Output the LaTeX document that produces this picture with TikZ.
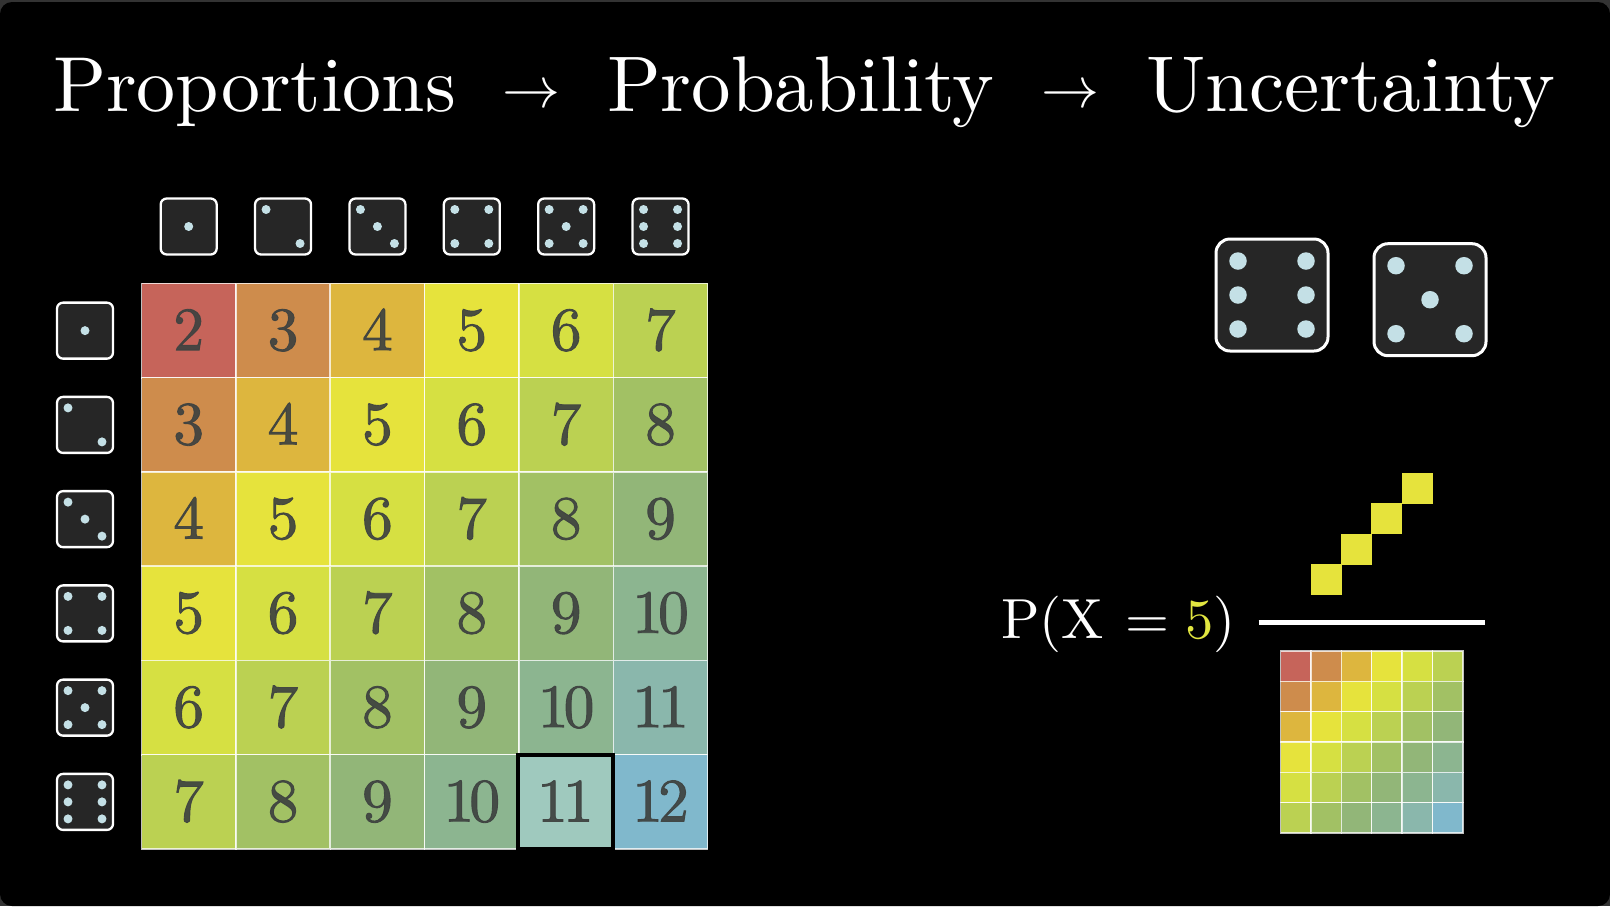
\documentclass[tikz,border=0pt]{standalone}
\usepackage{fix-cm}
\usepackage{xcolor}
\font\numfont="[lmroman10-regular.otf]:embolden=1.4" at 10pt
\newcommand{\numtxt}[1]{{\numfont\ifnum#1>9 1\kern-.8pt\number\numexpr#1-10\relax\else#1\fi}}
\definecolor{sum2}{HTML}{C6645A}
\definecolor{sum3}{HTML}{CE8C4C}
\definecolor{sum4}{HTML}{DDB63E}
\definecolor{sum5}{HTML}{E6E33C}
\definecolor{sum6}{HTML}{D6E042}
\definecolor{sum7}{HTML}{BBD152}
\definecolor{sum8}{HTML}{A2C164}
\definecolor{sum9}{HTML}{92B678}
\definecolor{sum10}{HTML}{8CB590}
\definecolor{sum11}{HTML}{8AB7AC}
\definecolor{sum12}{HTML}{80B8CC}
\definecolor{hilite}{HTML}{9FC9BE}
\definecolor{dieface}{HTML}{262626}
\definecolor{pipcol}{HTML}{C4E0E6}
\definecolor{frame}{HTML}{333333}
\definecolor{five}{HTML}{E2E640}
\definecolor{numcol}{HTML}{3E4240}
\tikzset{
  x=1pt,y=-1pt,
  bigtext/.style={inner sep=0pt,outer sep=0pt,anchor=base,text=white,scale=#1,transform shape},
  bigtextw/.style={inner sep=0pt,outer sep=0pt,anchor=base west,text=white,scale=#1,transform shape},
  cell/.style={inner sep=0pt,outer sep=0pt,minimum size=94.35pt,draw=white,draw opacity=.75,line width=1.5pt},
  minicell/.style={inner sep=0pt,outer sep=0pt,minimum size=30.4pt,draw=white,draw opacity=.75,line width=1.3pt},
  num/.style={inner sep=0pt,outer sep=0pt,anchor=base,text=numcol,text opacity=.92,scale=6.15,transform shape},
  diebox/.style={inner sep=0pt,outer sep=0pt,fill=dieface,draw=white,rounded corners=#1},
  pip/.style={circle,inner sep=0pt,outer sep=0pt,fill=pipcol},
  yellowsq/.style={inner sep=0pt,outer sep=0pt,minimum size=31pt,fill=sum5},
}
% \placedie{name}{cx}{cy}{size}{line width}{corner}{pip offset}{pip diameter}{value}
\newcommand{\placedie}[9]{%
  \node[diebox=#6,minimum size=#4pt,line width=#5pt] (#1) at (#2,#3) {};
  \ifodd#9\relax \node[pip,minimum size=#8pt] (#1c) at (#2,#3) {};\fi
  \ifnum#9>1\relax
    \node[pip,minimum size=#8pt] (#1a) at ($(#2,#3)+(-#7,-#7)$) {};
    \node[pip,minimum size=#8pt] (#1b) at ($(#2,#3)+(#7,#7)$) {};
  \fi
  \ifnum#9>3\relax
    \node[pip,minimum size=#8pt] (#1d) at ($(#2,#3)+(#7,-#7)$) {};
    \node[pip,minimum size=#8pt] (#1e) at ($(#2,#3)+(-#7,#7)$) {};
  \fi
  \ifnum#9=6\relax
    \node[pip,minimum size=#8pt] (#1f) at ($(#2,#3)+(-#7,0)$) {};
    \node[pip,minimum size=#8pt] (#1g) at ($(#2,#3)+(#7,0)$) {};
  \fi
}
\usetikzlibrary{calc}
\begin{document}
\begin{tikzpicture}
\useasboundingbox (0,0) rectangle (1610,906);
\fill[frame] (0,0) rectangle (1610,906);
\fill[black,rounded corners=12pt] (0,2) rectangle (1610,906);
% title
\node[bigtextw=7.8] (t1) at (53,111.5) {Proportions};
\node[bigtext=5.8] (a1) at (531.5,107.5) {$\rightarrow$};
\node[bigtextw=7.89] (t2) at (607,111.5) {Probability};
\node[bigtext=5.8] (a2) at (1070.5,107.5) {$\rightarrow$};
\node[bigtextw=7.92] (t3) at (1146,111.5) {Uncertainty};
% main grid
\foreach \r in {0,...,5}{
  \foreach \c in {0,...,5}{
    \pgfmathtruncatemacro{\s}{\r+\c+2}
    \pgfmathsetmacro{\cx}{141.5+94.37*(\c+.5)}
    \pgfmathsetmacro{\cy}{283.5+94.25*(\r+.5)}
    \pgfmathtruncatemacro{\skipit}{(\r==5)&&(\c==4)}
    \ifnum\skipit=0
      \node[cell,fill=sum\s] (g\r\c) at (\cx,\cy) {};
      \node[num] (n\r\c) at (\cx,\cy+19.5) {\numtxt{\s}};
    \fi
  }
}
\node[cell,fill=hilite,draw=black,draw opacity=1,line width=4pt] (g54) at (565.5,802) {};
\node[num] (n54) at (565.5,821.5) {\numtxt{11}};
% top and left dice
\foreach \v in {1,...,6}{
  \pgfmathsetmacro{\cx}{141.5+94.37*(\v-.5)}
  \pgfmathsetmacro{\cy}{283.5+94.25*(\v-.5)}
  \placedie{top\v}{\cx}{226.5}{56}{2.3}{6pt}{17}{9}{\v}
  \placedie{left\v}{85}{\cy}{56}{2.3}{6pt}{17}{9}{\v}
}
% big dice
\placedie{bigA}{1272}{295}{112}{3}{14pt}{34}{17.5}{6}
\placedie{bigB}{1430}{299.7}{112}{3}{14pt}{34}{17.5}{5}
% probability
\node[bigtext=5.65] (px) at (1118.5,638) {$\mathrm{P}(\mathrm{X}\mskip2mu=\textcolor{five}{5})$};
\foreach \k in {0,...,3}{
  \node[yellowsq] (y\k) at (1326.3+30.3*\k,579.5-30.3*\k) {};
}
\coordinate (fl) at (1258.5,622.7);
\coordinate (fr) at (1485,622.7);
\draw[white,line width=4.5pt] (fl) -- (fr);
% small grid
\foreach \r in {0,...,5}{
  \foreach \c in {0,...,5}{
    \pgfmathtruncatemacro{\s}{\r+\c+2}
    \node[minicell,fill=sum\s] (m\r\c) at (1280.5+30.4*\c+15.2,651+30.3*\r+15.2) {};
  }
}
\end{tikzpicture}
\end{document}
